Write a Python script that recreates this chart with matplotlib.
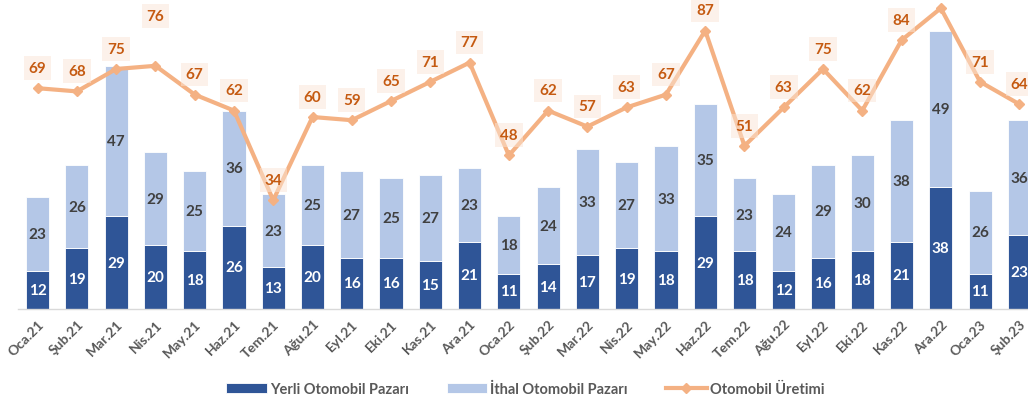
import numpy as np
import matplotlib.pyplot as plt
import matplotlib

matplotlib.rcParams['font.family'] = ['Lato', 'DejaVu Sans']

months = ['Oca.21', 'Şub.21', 'Mar.21', 'Nis.21', 'May.21', 'Haz.21', 'Tem.21',
          'Ağu.21', 'Eyl.21', 'Eki.21', 'Kas.21', 'Ara.21', 'Oca.22', 'Şub.22',
          'Mar.22', 'Nis.22', 'May.22', 'Haz.22', 'Tem.22', 'Ağu.22', 'Eyl.22',
          'Eki.22', 'Kas.22', 'Ara.22', 'Oca.23', 'Şub.23']

# Domestic and imported car market, production (thousand units)
yerli = [12, 19, 29, 20, 18, 26, 13, 20, 16, 16, 15, 21, 11, 14, 17, 19, 18, 29,
         18, 12, 16, 18, 21, 38, 11, 23]
ithal = [23, 26, 47, 29, 25, 36, 23, 25, 27, 25, 27, 23, 18, 24, 33, 27, 33, 35,
         23, 24, 29, 30, 38, 49, 26, 36]
uretim = [69, 68, 75, 76, 67, 62, 34, 60, 59, 65, 71, 77, 48, 62, 57, 63, 67, 87,
          51, 63, 75, 62, 84, 94, 71, 64]

dark_blue = '#2F5597'
light_blue = '#B4C7E7'
line_orange = '#F4B183'
label_orange = '#C55A11'

fig = plt.figure(figsize=(10.28, 4.06), dpi=100)
ax = fig.add_axes([18 / 1028, 96 / 406, 1010 / 1028, 310 / 406])

x = np.arange(len(months))
w = 0.59
b1 = ax.bar(x, yerli, w, color=dark_blue, edgecolor='white', linewidth=0.6,
            label='Yerli Otomobil Pazarı', zorder=2)
b2 = ax.bar(x, ithal, w, bottom=yerli, color=light_blue, edgecolor='white', linewidth=0.6,
            label='İthal Otomobil Pazarı', zorder=2)

for i in range(len(x)):
    ax.text(x[i], yerli[i] / 2, str(yerli[i]), ha='center', va='center',
            color='white', fontsize=11, fontweight='bold', zorder=3)
    ax.text(x[i], yerli[i] + ithal[i] / 2, str(ithal[i]), ha='center', va='center',
            color='#404040', fontsize=11, fontweight='bold', zorder=3)

ln, = ax.plot(x, uretim, color=line_orange, linewidth=3, marker='D', markersize=5,
              label='Otomobil Üretimi', zorder=4)

# labels above the line points; Nis.21 sits higher, Ara.22 runs off the top
ymax = 310 / 3.2
for i, v in enumerate(uretim):
    off = 6.3
    if months[i] == 'Nis.21':
        off = 15.5
    if v + off > ymax:
        continue
    ax.text(x[i], v + off, str(v), ha='center', va='center', color=label_orange,
            fontsize=11, fontweight='bold', zorder=5,
            bbox=dict(boxstyle='square,pad=0.32', facecolor='#FBE5D6',
                      edgecolor='none', alpha=0.5))

ax.set_xlim(-0.5, 25.22)
ax.set_ylim(0, ymax)
ax.set_yticks([])
ax.set_xticks(x)
ax.set_xticklabels(months, rotation=45, ha='right', rotation_mode='anchor',
                   fontsize=10, fontweight='bold', color='#595959')
ax.tick_params(axis='x', length=0, pad=6)
for s in ['top', 'right', 'left']:
    ax.spines[s].set_visible(False)
ax.spines['bottom'].set_color('#D9D9D9')
ax.spines['bottom'].set_linewidth(1)

leg = fig.legend([b1, b2, ln], ['Yerli Otomobil Pazarı', 'İthal Otomobil Pazarı', 'Otomobil Üretimi'],
                 loc='center', bbox_to_anchor=(525 / 1028, 1 - 390 / 406), ncol=3,
                 frameon=False, fontsize=10.5, handlelength=2.8, handleheight=0.6,
                 columnspacing=2.6, handletextpad=0.2)
for t in leg.get_texts():
    t.set_color('#595959')
    t.set_fontweight('bold')

fig.savefig('out.png', dpi=100)
